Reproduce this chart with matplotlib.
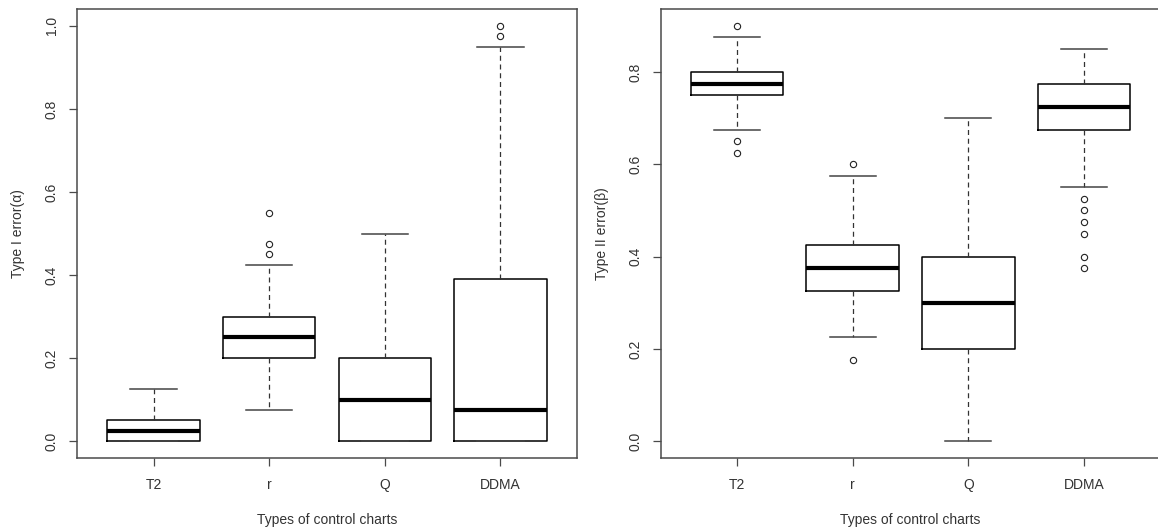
import matplotlib
matplotlib.use("Agg")
import matplotlib.pyplot as plt

plt.rcParams['font.family'] = ['Liberation Sans', 'DejaVu Sans']

categories = ["T2", "r", "Q", "DDMA"]

# Type I error (alpha) summary
a_q1 = [0.0, 0.2, 0.0, 0.0]
a_med = [0.025, 0.25, 0.1, 0.075]
a_q3 = [0.05, 0.3, 0.2, 0.39]
a_lo = [0.0, 0.075, 0.0, 0.0]
a_hi = [0.125, 0.425, 0.5, 0.95]
a_out = [[], [0.45, 0.475, 0.55], [], [0.975, 1.0]]

# Type II error (beta) summary
b_q1 = [0.75, 0.325, 0.2, 0.675]
b_med = [0.775, 0.375, 0.3, 0.725]
b_q3 = [0.8, 0.425, 0.4, 0.775]
b_lo = [0.675, 0.225, 0.0, 0.55]
b_hi = [0.875, 0.575, 0.7, 0.85]
b_out = [[0.65, 0.625, 0.9], [0.6, 0.175], [], [0.525, 0.5, 0.475, 0.45, 0.4, 0.375]]

yticks_a = [0.0, 0.2, 0.4, 0.6, 0.8, 1.0]
yticks_b = [0.0, 0.2, 0.4, 0.6, 0.8]

W, H = 1158, 531
fig = plt.figure(figsize=(W / 100, H / 100), dpi=100)

frame_col = "#4a4a4a"
text_col = "#333333"


def make_stats(q1, med, q3, lo, hi, out):
    stats = []
    for i in range(len(q1)):
        stats.append(dict(med=med[i], q1=q1[i], q3=q3[i], whislo=lo[i],
                          whishi=hi[i], fliers=out[i], label=categories[i]))
    return stats


def draw(ax, stats, yticks, ylabel, ylim):
    ax.bxp(stats, positions=range(1, len(stats) + 1), widths=0.8,
           showfliers=True,
           boxprops=dict(color="black", linewidth=1.1),
           medianprops=dict(color="black", linewidth=3.0, solid_capstyle="butt"),
           whiskerprops=dict(color="#333333", linewidth=0.9, linestyle=(0, (4, 3))),
           capprops=dict(color="#444444", linewidth=1.1),
           capwidths=0.4,
           flierprops=dict(marker="o", markersize=4.5, markerfacecolor="none",
                           markeredgecolor="#222222", markeredgewidth=0.8,
                           linestyle="none"))
    ax.set_xlim(0.34, 4.66)
    ax.set_ylim(*ylim)
    ax.set_yticks(yticks)
    ax.set_yticklabels([f"{v:.1f}" for v in yticks], rotation=90, va="center")
    ax.set_xticks(range(1, len(categories) + 1))
    ax.set_xticklabels(categories)
    for s in ax.spines.values():
        s.set_color(frame_col)
        s.set_linewidth(1.1)
    ax.tick_params(axis="both", direction="out", length=5.5, width=0.9,
                   color=frame_col, labelcolor=text_col, labelsize=10)
    ax.tick_params(axis="x", pad=9)
    ax.tick_params(axis="y", pad=8)
    ax.set_xlabel("Types of control charts", fontsize=10, color=text_col, labelpad=15)
    ax.set_ylabel(ylabel, fontsize=10, color=text_col, labelpad=14)


bottom = (H - 457.7) / H
height = (457.7 - 9.3) / H
width = 499.4 / W

ax1 = fig.add_axes([77.3 / W, bottom, width, height])
draw(ax1, make_stats(a_q1, a_med, a_q3, a_lo, a_hi, a_out), yticks_a,
     "Type I error(α)", (-0.04, 1.04))

ax2 = fig.add_axes([660.8 / W, bottom, width, height])
draw(ax2, make_stats(b_q1, b_med, b_q3, b_lo, b_hi, b_out), yticks_b,
     "Type II error(β)", (-0.036, 0.936))

fig.savefig("out.png", dpi=100, facecolor="white")
